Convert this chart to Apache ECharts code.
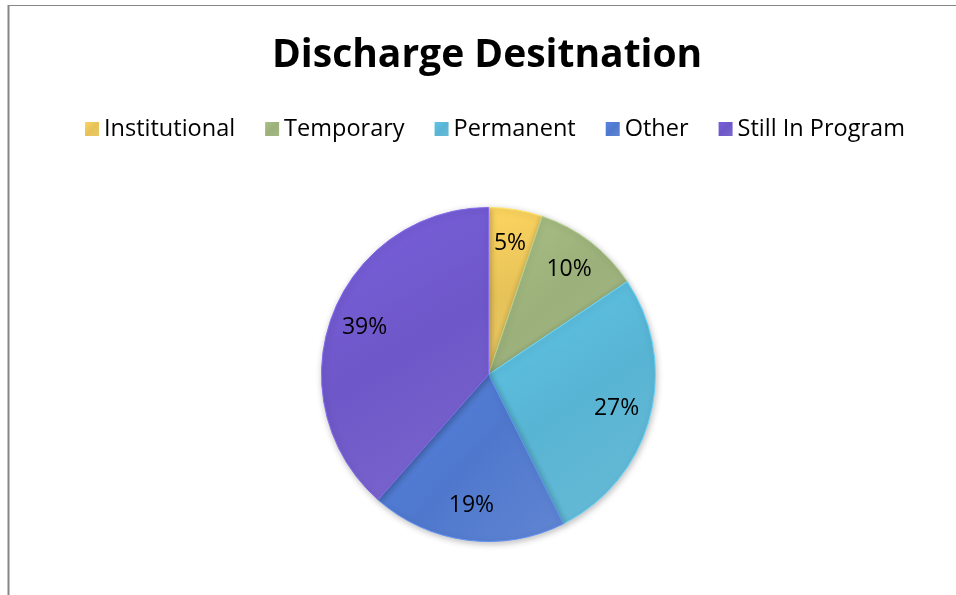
<!DOCTYPE html>
<html>
<head>
<meta charset="utf-8">
<script src="https://cdn.jsdelivr.net/npm/echarts@6/dist/echarts.min.js"></script>
<style>
html,body{margin:0;padding:0;background:#fff;}
#c{width:956px;height:595px;}
</style>
</head>
<body>
<div id="c"></div>
<script>
const titleText = 'Discharge Desitnation';
const categories = ['Institutional', 'Temporary', 'Permanent', 'Other', 'Still In Program'];
const percentValues = [5.2, 10.4, 27.0, 18.9, 38.5];
const sliceColors = ['#E6C258', '#9BB07A', '#58B4D3', '#4F78CD', '#6E57C8'];

const chart = echarts.init(document.getElementById('c'), null, {renderer: 'canvas'});
const FONT = '"Open Sans", "Noto Sans", sans-serif';

function fillFor(c) {
  return new echarts.graphic.LinearGradient(0, 0, 1, 1, [
    {offset: 0, color: echarts.color.lift(c, -0.1)},
    {offset: 0.5, color: c},
    {offset: 1, color: echarts.color.lift(c, 0.1)}
  ]);
}

const mainData = categories.map((name, i) => ({
  name: name,
  value: percentValues[i],
  itemStyle: {color: fillFor(sliceColors[i]), borderColor: echarts.color.lift(sliceColors[i], -0.2), borderWidth: 1}
}));
const labelData = categories.map((name, i) => ({name: name, value: percentValues[i]}));

chart.setOption({
  animation: false,
  backgroundColor: '#fff',
  color: sliceColors,
  title: {
    text: titleText,
    left: 267,
    top: 31,
    textStyle: {fontFamily: FONT, fontWeight: 'bold', fontSize: 39, color: '#000'}
  },
  legend: {
    data: categories,
    top: 112,
    left: 80,
    itemWidth: 14,
    itemHeight: 14,
    itemGap: 30,
    icon: 'rect',
    textStyle: {fontFamily: FONT, fontSize: 23.5, color: '#000'},
    itemStyle: {borderWidth: 0}
  },
  graphic: [
    {type: 'line', shape: {x1: 8, y1: 5.5, x2: 956, y2: 5.5}, style: {stroke: '#868686', lineWidth: 1}},
    {type: 'line', shape: {x1: 8.5, y1: 5, x2: 8.5, y2: 595}, style: {stroke: '#868686', lineWidth: 2}}
  ],
  series: [
    {
      type: 'pie',
      name: 'main',
      center: [488.5, 374.5],
      radius: [0, 167],
      startAngle: 90,
      clockwise: true,
      silent: true,
      label: {show: false},
      labelLine: {show: false},
      itemStyle: {shadowBlur: 6, shadowColor: 'rgba(0,0,0,0.25)', shadowOffsetX: 1, shadowOffsetY: 2},
      data: mainData
    },
    {
      type: 'pie',
      name: 'labels',
      center: [488.5, 374.5],
      radius: [92, 167],
      startAngle: 90,
      clockwise: true,
      silent: true,
      legendHoverLink: false,
      itemStyle: {color: 'rgba(0,0,0,0)', borderWidth: 0},
      label: {
        show: true,
        position: 'inside',
        formatter: p => Math.round(p.value) + '%',
        fontFamily: FONT,
        fontSize: 23,
        color: '#000'
      },
      labelLine: {show: false},
      data: labelData
    }
  ]
});
</script>
</body>
</html>
